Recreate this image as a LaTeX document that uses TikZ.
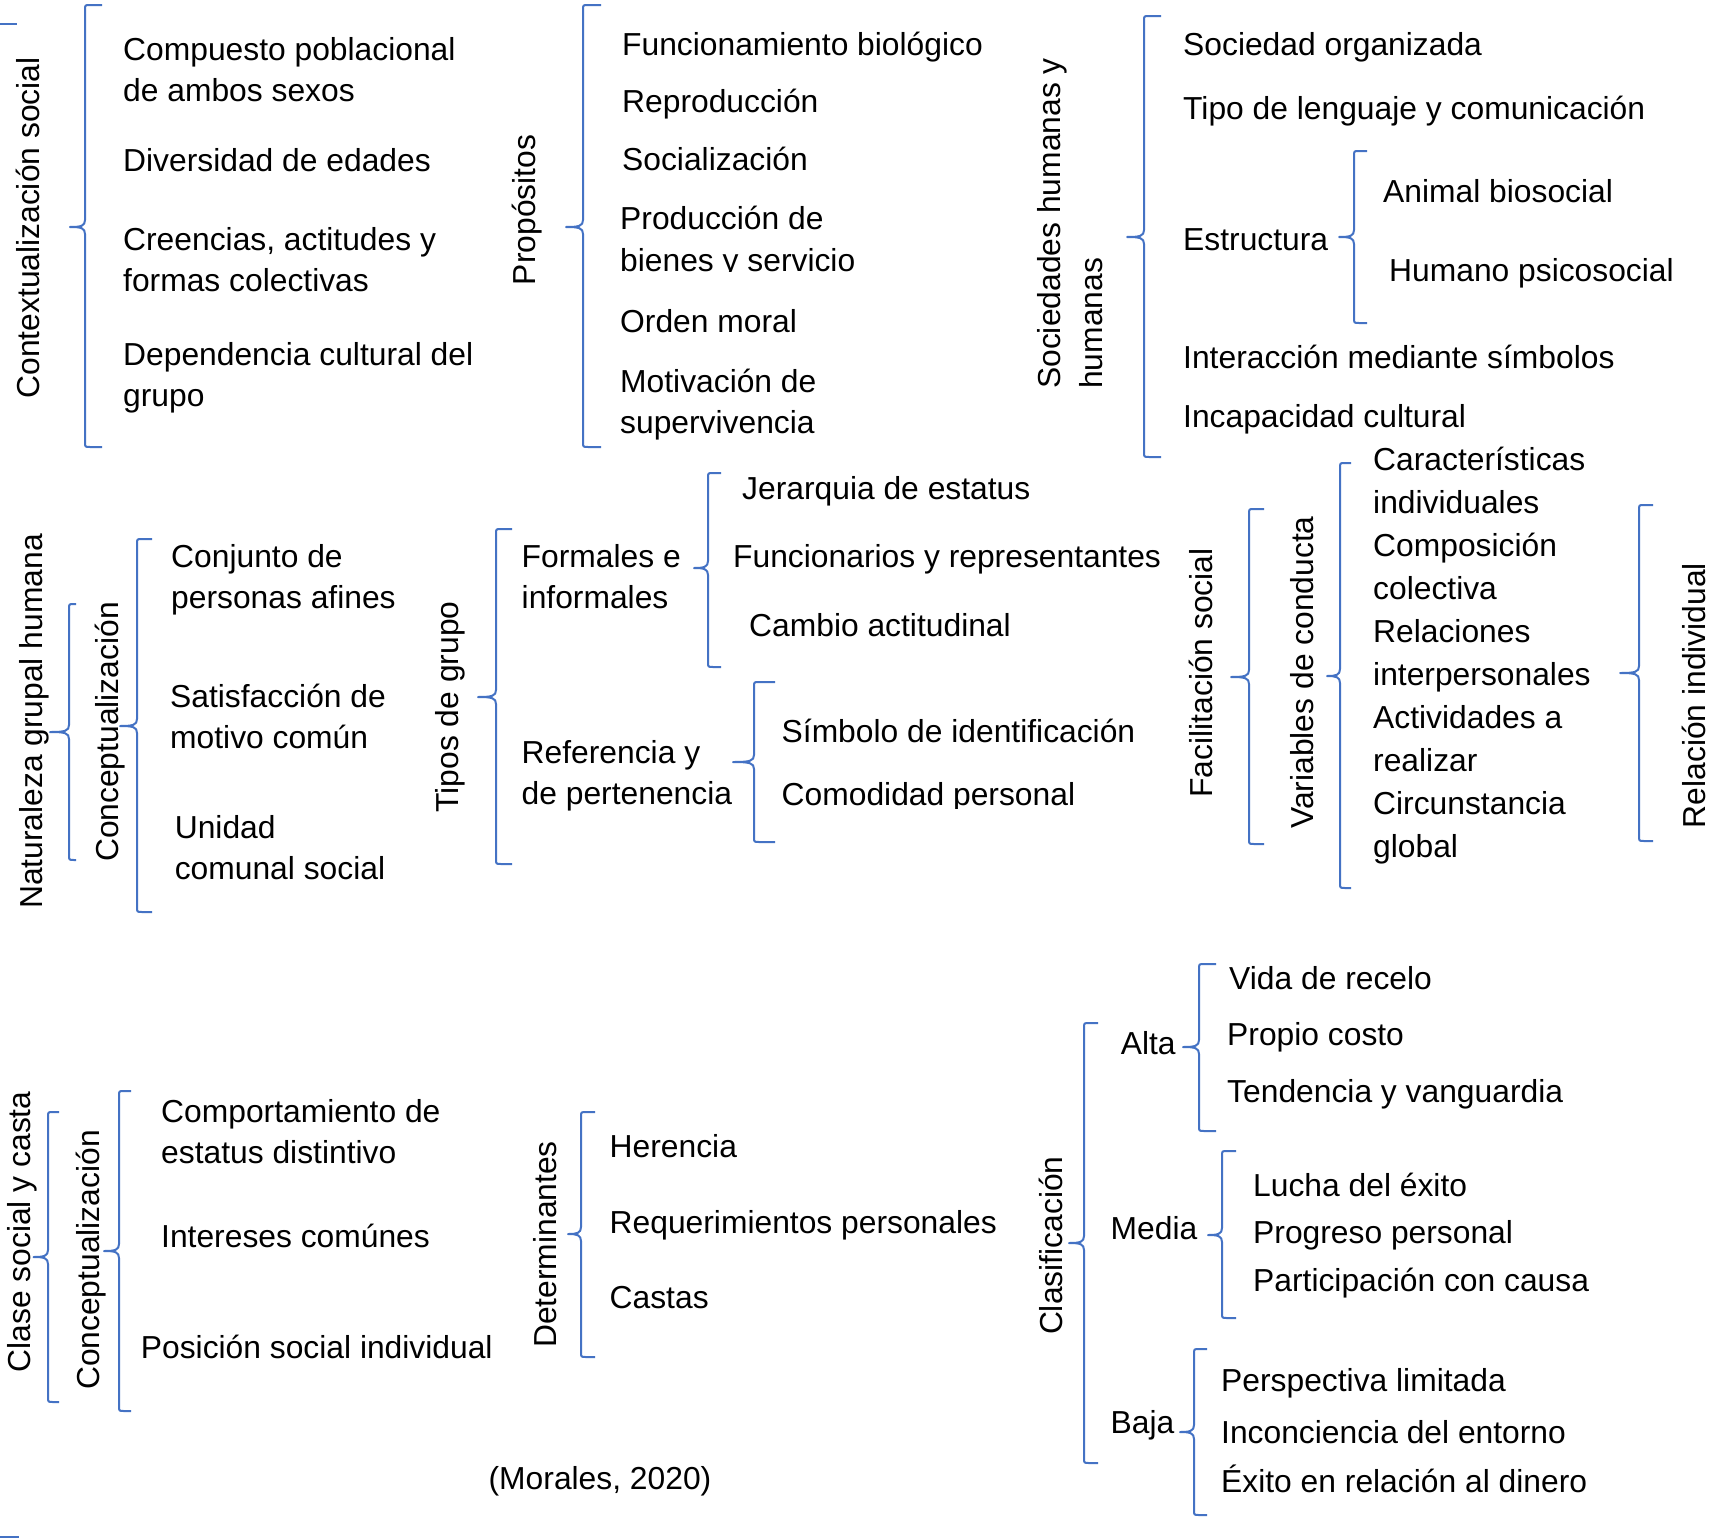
\documentclass[tikz,border=0pt]{standalone}
\usepackage{fontspec}
\setmainfont{Liberation Sans}
\definecolor{bracecol}{HTML}{4472C4}
\newcommand\ml[1]{\begin{tabular}[t]{@{}l@{}}#1\end{tabular}}
% xv, ytop, ybot, xtip, ymid, xend
\newcommand\brc[6]{%
  \draw[brcs] (#6,#2) -- ({#1+5},#2) .. controls (#1,#2) .. (#1,{#2+5})
   -- (#1,{#5-7}) .. controls (#1,{#5-1}) and ({#1-4},#5) .. (#4,#5)
   .. controls ({#1-4},#5) and (#1,{#5+1}) .. (#1,{#5+7})
   -- (#1,{#3-5}) .. controls (#1,#3) .. ({#1+5},#3) -- (#6,#3);}
\begin{document}
\begin{tikzpicture}[x=1pt,y=-1pt,
  brcs/.style={draw=bracecol,line width=2pt,line join=round},
  txt/.style={anchor=base west,inner sep=0pt,font=\fontsize{31.8}{41.5}\selectfont},
  txtw/.style={anchor=base west,inner sep=0pt,font=\fontsize{31.8}{43}\selectfont},
  vlab/.style={rotate=90,anchor=base,inner sep=0pt,font=\fontsize{31.8}{42}\selectfont}]
\fill[white] (0,0) rectangle (1722,1539);
\useasboundingbox (0,0) rectangle (1722,1539);

% stray fragments at the left edge
\coordinate (fa1) at (0,24); \coordinate (fa2) at (17,24);
\draw[brcs] (fa1) -- (fa2);
\coordinate (fb1) at (0,1537); \coordinate (fb2) at (19,1537);
\draw[brcs] (fb1) -- (fb2);

% ---------- Contextualizacion social ----------
\node[vlab] (lab1) at (39,228) {Contextualización social};
\brc{85}{5}{447}{70}{227}{102}
\node[txt] (c1) at (123,60) {\ml{Compuesto poblacional\\de ambos sexos}};
\node[txt] (c2) at (123,171) {Diversidad de edades};
\node[txt] (c3) at (123,250) {\ml{Creencias, actitudes y\\formas colectivas}};
\node[txt] (c4) at (123,365) {\ml{Dependencia cultural del\\grupo}};

% ---------- Propositos ----------
\node[vlab] (lab2) at (535,210) {Propósitos};
\brc{583}{5}{447}{566}{227}{601}
\node[txt] (p1) at (622,55) {Funcionamiento biológico};
\node[txt] (p2) at (622,112) {Reproducción};
\node[txt] (p3) at (622,170) {Socialización};
\begin{scope}
\clip (600,180) rectangle (950,271.3);
\node[txt] (p4) at (620,229.5) {\ml{Producción de\\bienes y servicio}};
\end{scope}
\node[txt] (p5) at (620,332) {Orden moral};
\node[txt] (p6) at (620,392) {\ml{Motivación de\\supervivencia}};

% ---------- Sociedades humanas y humanas ----------
\node[rotate=90,anchor=base west,inner sep=0pt,font=\fontsize{31.8}{42}\selectfont] (lab3) at (1060,389) {\ml{Sociedades humanas y\\humanas}};
\brc{1144}{16}{457}{1127}{237}{1161}
\node[txt] (s1) at (1183,55) {Sociedad organizada};
\node[txt] (s2) at (1183,119) {Tipo de lenguaje y comunicación};
\node[txt] (s3) at (1183,250) {Estructura};
\brc{1354}{151}{323}{1339}{237}{1367}
\node[txt] (s4) at (1383,202) {Animal biosocial};
\node[txt] (s5) at (1389,281) {Humano psicosocial};
\node[txt] (s6) at (1183,368) {Interacción mediante símbolos};
\node[txt] (s7) at (1183,427) {Incapacidad cultural};

% ---------- Naturaleza grupal humana ----------
\node[vlab] (lab4) at (42,721.5) {Naturaleza grupal humana};
\brc{69}{604}{860}{50}{732}{76}
\node[vlab] (lab5) at (118.6,732) {Conceptualización};
\brc{137}{539}{912}{120}{726}{152}
\node[txt] (n1) at (171,567) {\ml{Conjunto de\\personas afines}};
\node[txt] (n2) at (170,707) {\ml{Satisfacción de\\motivo común}};
\node[txt] (n3) at (174.6,838) {\ml{Unidad\\comunal social}};

\node[vlab] (lab6) at (458,707) {Tipos de grupo};
\brc{496}{529}{864}{478}{697}{512}
\node[txt] (t1) at (521.5,567) {\ml{Formales e\\informales}};
\node[txt] (t2) at (521.5,763) {\ml{Referencia y\\de pertenencia}};
\brc{708}{473}{667}{694}{568}{721}
\node[txt] (f1) at (742,499) {Jerarquia de estatus};
\node[txt] (f2) at (733,567) {Funcionarios y representantes};
\node[txt] (f3) at (749,636) {Cambio actitudinal};
\brc{754}{682}{842}{733}{762}{775}
\node[txt] (r1) at (781.5,742) {Símbolo de identificación};
\begin{scope}
\clip (770,700) rectangle (1150,808);
\node[txt] (r2) at (781.5,805) {Comodidad personal};
\end{scope}

% ---------- Facilitacion social ----------
\node[vlab] (lab7) at (1212,673) {Facilitación social};
\brc{1249}{509}{844}{1231}{677}{1264}
\node[vlab] (lab8) at (1313,672.5) {Variables de conducta};
\brc{1340}{463}{888}{1327}{676}{1351}
\node[txtw] (v1) at (1373,470.5) {\ml{Características\\individuales}};
\node[txtw] (v2) at (1373,556.5) {\ml{Composición\\colectiva}};
\node[txtw] (v3) at (1373,642.5) {\ml{Relaciones\\interpersonales}};
\node[txtw] (v4) at (1373,728.5) {\ml{Actividades a\\realizar}};
\node[txtw] (v5) at (1373,814.5) {\ml{Circunstancia\\global}};
\brc{1639}{505}{841}{1620}{673}{1653}
\node[vlab] (lab9) at (1705,695.5) {Relación individual};

% ---------- Clase social y casta ----------
\node[vlab] (lab10) at (30,1232) {Clase social y casta};
\brc{48}{1112}{1402}{33.5}{1257}{59}
\node[vlab] (lab11) at (99,1260) {Conceptualización};
\brc{119}{1091}{1411}{104}{1251}{131}
\node[txt] (k1) at (161,1122) {\ml{Comportamiento de\\estatus distintivo}};
\node[txt] (k2) at (161,1247) {Intereses comúnes};
\node[txt] (k3) at (140.7,1358) {Posición social individual};
\node[vlab] (lab12) at (556,1244.5) {Determinantes};
\brc{581}{1112}{1357}{568}{1234}{595}
\node[txt] (d1) at (609.5,1157) {Herencia};
\node[txt] (d2) at (609.5,1233) {Requerimientos personales};
\node[txt] (d3) at (609.5,1308) {Castas};
\node[anchor=base,inner sep=0pt,font=\fontsize{31.8}{41.5}\selectfont] (src) at (600,1489) {(Morales, 2020)};

% ---------- Clasificacion ----------
\node[vlab] (lab13) at (1062,1245.7) {Clasificación};
\brc{1084}{1023}{1463}{1069}{1243}{1098}
\node[txt] (a0) at (1120.6,1054.6) {Alta};
\brc{1199}{964}{1131}{1183}{1047}{1216}
\node[txt] (a1) at (1229,989.7) {Vida de recelo};
\node[txt] (a2) at (1227,1045) {Propio costo};
\node[txt] (a3) at (1227,1102.4) {Tendencia y vanguardia};
\node[txt] (m0) at (1110.5,1239) {Media};
\brc{1222}{1151}{1318}{1208}{1235}{1236}
\node[txt] (m1) at (1253,1196) {Lucha del éxito};
\node[txt] (m2) at (1253,1243.8) {Progreso personal};
\node[txt] (m3) at (1253,1291.5) {Participación con causa};
\node[txt] (b0) at (1110.5,1433) {Baja};
\brc{1194}{1349}{1515}{1180}{1432}{1207}
\node[txt] (b1) at (1221,1391) {Perspectiva limitada};
\node[txt] (b2) at (1221,1443.6) {Inconciencia del entorno};
\node[txt] (b3) at (1221,1492) {Éxito en relación al dinero};
\end{tikzpicture}
\end{document}
